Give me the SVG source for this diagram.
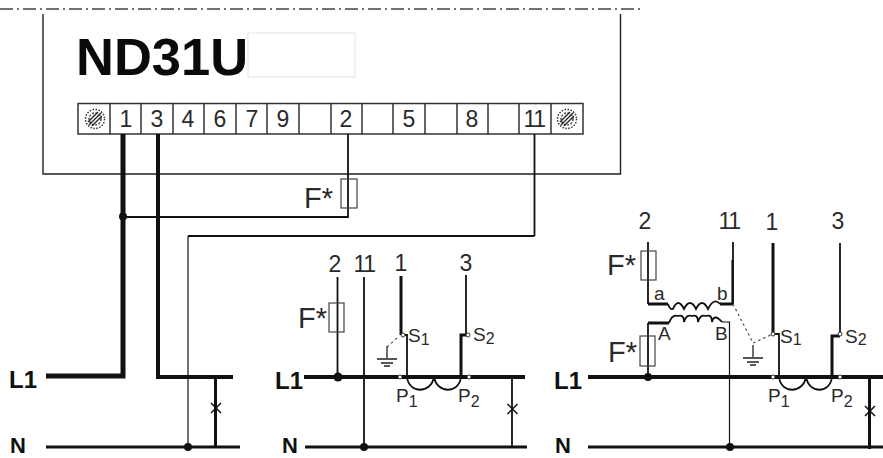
<svg xmlns="http://www.w3.org/2000/svg" width="883" height="458" viewBox="0 0 883 458">
<style>
text{font-family:"Liberation Sans",Arial,sans-serif;fill:#2a2a2a}
.t{font-size:23px;text-anchor:middle}
.f{font-size:29px}
.s{font-size:19px}
.b{font-size:24px;font-weight:bold;fill:#111}
.n{font-size:22px;font-weight:bold;fill:#111}
.w,.w1,.w2,.w3,.w4,.w5,.c{fill:none;stroke:#111;stroke-linecap:butt;stroke-linejoin:miter}
.w1{stroke-width:1.2}
.w{stroke-width:1.8}
.w2{stroke-width:2.2}
.w3{stroke-width:3}
.w4{stroke-width:4}
.w5{stroke-width:5}
.d{fill:none;stroke:#555;stroke-width:1.2;stroke-dasharray:2.5 3}
.o{fill:#fff;stroke:#333;stroke-width:1}
.fuse{fill:none;stroke:#444;stroke-width:1.2}
.dot{fill:#111}
.g{stroke:#222;stroke-width:1.3;fill:none}
.div{stroke:#333;stroke-width:1.5}
</style>
<defs>
<g id="screw"><circle r="9.500" fill="#fff" stroke="#333" stroke-width="1.500" stroke-dasharray="1.500 1.500"/><circle r="6" fill="none" stroke="#444" stroke-width="1.500" stroke-dasharray="2 1.500"/><path d="M-6 6L6 -6M-3 7L7 -3M-7 3L3 -7" stroke="#222" stroke-width="1.400" fill="none"/></g>
<g id="earth"><path class="g" d="M0 0V12M-10 13H10M-6 17H6M-3 20H3"/></g>
<path id="cross" d="M-5 -5L5 5M-5 5L5 -5" stroke="#111" stroke-width="1.500" fill="none"/>
</defs>
<g id="enclosure">
<path d="M0 9H641" fill="none" stroke="#444" stroke-width="1.300" stroke-dasharray="13 4 2 4"/>
<path d="M43 14V174H620.500V14" fill="none" stroke="#222" stroke-width="1.400"/>
<text x="76" y="75" font-size="52.500" font-weight="bold" style="fill:#0a0a0a">ND31U</text>
<rect x="248" y="33" width="107" height="44" fill="#fff" stroke="#e6e6e6" stroke-width="1"/>
</g>
<g id="terminals">
<rect x="78" y="103.500" width="505" height="30.500" fill="#fff" stroke="#333" stroke-width="1.500"/>
<path class="div" d="M110 103V134M141 103V134M173 103V134M204 103V134M236 103V134M267 103V134M299 103V134M331 103V134M362 103V134M393 103V134M425 103V134M457 103V134M488 103V134M519 103V134M551 103V134"/>
<use href="#screw" x="95" y="119"/><use href="#screw" x="567" y="119"/>
<text class="t" x="126" y="127">1</text><text class="t" x="157" y="127">3</text><text class="t" x="188" y="127">4</text><text class="t" x="220" y="127">6</text><text class="t" x="252" y="127">7</text><text class="t" x="283" y="127">9</text><text class="t" x="346" y="127">2</text><text class="t" x="409" y="127">5</text><text class="t" x="472" y="127">8</text><text class="t" x="534" y="127" letter-spacing="-1.500">11</text>
</g>
<g id="connectors">
<path class="w5" d="M46 376H123V134"/>
<path class="w4" d="M158 134V377H233"/>
<path class="w3" d="M215.500 377V447"/>
<path class="w3" d="M46 447H240"/>
<path class="w" d="M123 217H348V134"/>
<path class="w" d="M534.500 134V236"/>
<path class="w2" d="M534.500 236H188"/>
<path class="w1" d="M188 236V447"/>

<path class="w4" d="M304 377H525"/>
<path class="w3" d="M305 447H527"/>
<path class="w" d="M337.500 277V377"/>
<path class="w" d="M364 277V447"/>
<path class="w3" d="M401 276V335"/>
<path class="w" d="M401 335H407V377"/>
<path class="w" d="M466 275V335"/>
<path class="w3" d="M468 335H461V377"/>
<path class="w" d="M512 377V447"/>
<path class="w" d="M407 377C409 394 431 394 434 377C437 394 459 394 461 377"/>
<path class="d" d="M397 338L387 347"/>

<path class="w4" d="M588 377H883"/>
<path class="w3" d="M588 447H883"/>
<path class="w" d="M648 242V304"/>
<path class="w3" d="M648 304H668M720 304H733"/>
<path class="w" d="M668 304Q670 310 673 309Q678 297 684 309Q690 297 696 309Q702 297 708 309Q714 297 720 304"/>
<path class="w" d="M733 242V304"/>
<path class="w2" d="M732.500 260V304"/>
<path class="w3" d="M648 323H669"/>
<path class="w" d="M648 323V377"/>
<path class="w" d="M669 323Q672 314 678 316Q684 314 684 322Q686 314 692 316Q698 314 698 322Q700 314 706 316Q712 314 712 322Q714 313 722 322"/>
<path class="w1" d="M722 322H729.500V447"/>
<path class="w3" d="M773 243V334"/>
<path class="w" d="M773 334H779V377"/>
<path class="w" d="M840 243V334"/>
<path class="w3" d="M840 336H832V377"/>
<path class="w3" d="M869.500 377V449"/>
<path class="w" d="M779 377C781 394 803 394 806 377C809 394 830 394 832 377"/>
<path class="d" d="M733 304L753 343L773 334"/>
</g>
<g id="junctions">
<circle class="dot" cx="123" cy="216.500" r="4"/><circle class="dot" cx="188" cy="447" r="4"/><circle class="dot" cx="338" cy="377" r="4.500"/><circle class="dot" cx="364" cy="447" r="4"/><circle class="dot" cx="648" cy="377" r="4"/><circle class="dot" cx="730" cy="447" r="4"/>
<circle class="o" cx="400" cy="377" r="2"/><circle class="o" cx="469" cy="377" r="2"/><circle class="o" cx="773" cy="377" r="2"/><circle class="o" cx="840" cy="377" r="2"/><circle class="o" cx="403" cy="335" r="2"/><circle class="o" cx="468" cy="335" r="2"/><circle class="o" cx="773" cy="334" r="2"/><circle class="o" cx="840" cy="334" r="2"/>
<use href="#cross" x="216" y="408"/><use href="#cross" x="512.500" y="409"/><use href="#cross" x="870" y="411"/>
<use href="#earth" x="387" y="346"/><use href="#earth" x="753" y="345"/>
</g>
<g id="fuses">
<rect class="fuse" x="341" y="179" width="16" height="29"/><rect class="fuse" x="329" y="303" width="15" height="29"/><rect class="fuse" x="641" y="251" width="15" height="29"/><rect class="fuse" x="640" y="336" width="15" height="30"/>
</g>
<g id="labels">
<text class="f" x="304" y="208">F*</text><text class="f" x="298" y="328">F*</text><text class="f" x="607" y="275">F*</text><text class="f" x="608" y="362">F*</text>
<text class="b" x="9" y="388">L1</text><text class="n" x="10" y="453">N</text><text class="b" x="275" y="389">L1</text><text class="n" x="282" y="453">N</text><text class="b" x="554" y="389">L1</text><text class="n" x="555" y="453">N</text>
<text class="t" x="335" y="272">2</text><text class="t" x="364" y="272" letter-spacing="-1.500">11</text><text class="t" x="401" y="271">1</text><text class="t" x="466" y="271">3</text>
<text class="t" x="645" y="229">2</text><text class="t" x="729" y="229" letter-spacing="-1.500">11</text><text class="t" x="772" y="230">1</text><text class="t" x="838" y="229">3</text>
<text class="s" x="408" y="342">S<tspan dy="3" font-size="16">1</tspan></text><text class="s" x="473" y="341">S<tspan dy="3" font-size="16">2</tspan></text><text class="s" x="396" y="402">P<tspan dy="5" font-size="16">1</tspan></text><text class="s" x="458" y="402">P<tspan dy="5" font-size="16">2</tspan></text>
<text class="s" x="780" y="343">S<tspan dy="2" font-size="16">1</tspan></text><text class="s" x="845" y="343">S<tspan dy="2" font-size="16">2</tspan></text><text class="s" x="768" y="402">P<tspan dy="5" font-size="16">1</tspan></text><text class="s" x="831" y="402">P<tspan dy="5" font-size="16">2</tspan></text>
<text class="s" x="654" y="300">a</text><text class="s" x="717" y="300">b</text><text class="s" x="658" y="340">A</text><text class="s" x="715" y="340">B</text>
</g>
</svg>
